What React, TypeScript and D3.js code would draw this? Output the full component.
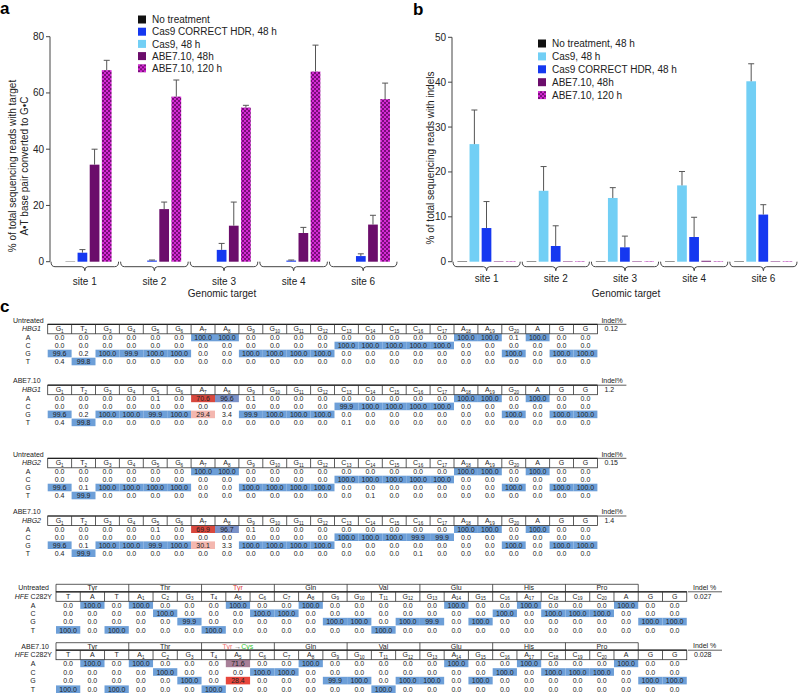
import * as d3 from "d3";

const FONT = "'Liberation Sans', Arial, sans-serif";

const sites = ["site 1", "site 2", "site 3", "site 4", "site 6"];

// panel a: % reads with A•T -> G•C
const aNoTreat = [0.1, 0, 0, 0, 0];
const aHdr = [3.2, 0.4, 4.2, 0.4, 2.0];
const aHdrErr = [1.1, 0.2, 2.3, 0.2, 0.8];
const aAbe48 = [34.5, 18.7, 12.8, 10.2, 13.2];
const aAbe48Err = [5.5, 2.5, 8.4, 2.0, 3.3];
const aAbe120 = [68.1, 58.7, 54.8, 67.6, 57.8];
const aAbe120Err = [3.5, 5.9, 0.8, 9.4, 5.7];
const aTicks = [0, 20, 40, 60, 80];

// panel b: % reads with indels
const bNoTreat = [0.1, 0.1, 0.1, 0.1, 0.1];
const bCas9 = [26.2, 15.8, 14.2, 17.0, 40.2];
const bCas9Err = [7.6, 5.4, 2.3, 3.1, 3.9];
const bHdr = [7.5, 3.5, 3.2, 5.5, 10.5];
const bHdrErr = [5.9, 4.5, 2.5, 4.4, 2.2];
const bAbe48 = [0.1, 0.1, 0.1, 0.2, 0.1];
const bAbe120 = [0.1, 0.1, 0.1, 0.1, 0.1];
const bTicks = [0, 10, 20, 30, 40, 50];

const legendA = ["No treatment", "Cas9 CORRECT HDR, 48 h", "Cas9, 48 h", "ABE7.10, 48h", "ABE7.10, 120 h"];
const legendB = ["No treatment, 48 h", "Cas9, 48 h", "Cas9 CORRECT HDR, 48 h", "ABE7.10, 48h", "ABE7.10, 120 h"];

// panel c tables
const bases = ["A", "C", "G", "T"];
const hbgCols = ["G1", "T2", "G3", "G4", "G5", "G6", "A7", "A8", "G9", "G10", "G11", "G12",
    "C13", "C14", "C15", "C16", "C17", "A18", "A19", "G20", "A", "G", "G"];

const hbg1Untreated = [
    [0, 0, 0, 0, 0, 0, 100, 100, 0, 0, 0, 0, 0, 0, 0, 0, 0, 100, 100, 0.1, 100, 0, 0],
    [0, 0, 0, 0, 0, 0, 0, 0, 0, 0, 0, 0, 100, 100, 100, 100, 100, 0, 0, 0, 0, 0, 0],
    [99.6, 0.2, 100, 99.9, 100, 100, 0, 0, 100, 100, 100, 100, 0, 0, 0, 0, 0, 0, 0, 100, 0, 100, 100],
    [0.4, 99.8, 0, 0, 0, 0, 0, 0, 0, 0, 0, 0, 0, 0, 0, 0, 0, 0, 0, 0, 0, 0, 0],
];
const hbg1Abe = [
    [0, 0, 0, 0, 0.1, 0, 70.6, 96.6, 0.1, 0, 0, 0, 0, 0, 0, 0, 0, 100, 100, 0, 100, 0, 0],
    [0, 0, 0, 0, 0, 0, 0, 0, 0, 0, 0, 0, 99.9, 100, 100, 100, 100, 0, 0, 0, 0, 0, 0],
    [99.6, 0.2, 100, 100, 99.9, 100, 29.4, 3.4, 99.9, 100, 100, 100, 0, 0, 0, 0, 0, 0, 0, 100, 0, 100, 100],
    [0.4, 99.8, 0, 0, 0, 0, 0, 0, 0, 0, 0, 0, 0.1, 0, 0, 0, 0, 0, 0, 0, 0, 0, 0],
];
const hbg2Untreated = [
    [0, 0, 0, 0, 0, 0, 100, 100, 0, 0, 0, 0, 0, 0, 0, 0, 0, 100, 100, 0, 100, 0, 0],
    [0, 0, 0, 0, 0, 0, 0, 0, 0, 0, 0, 0, 100, 100, 100, 100, 100, 0, 0, 0, 0, 0, 0],
    [99.6, 0.1, 100, 100, 100, 100, 0, 0, 100, 100, 100, 100, 0, 0, 0, 0, 0, 0, 0, 100, 0, 100, 100],
    [0.4, 99.9, 0, 0, 0, 0, 0, 0, 0, 0, 0, 0, 0, 0.1, 0, 0, 0, 0, 0, 0, 0, 0, 0],
];
const hbg2Abe = [
    [0, 0, 0, 0, 0.1, 0, 69.9, 96.7, 0.1, 0, 0, 0, 0, 0, 0, 0, 0, 100, 100, 0, 100, 0, 0],
    [0, 0, 0, 0, 0, 0, 0, 0, 0, 0, 0, 0, 100, 100, 100, 99.9, 99.9, 0, 0, 0, 0, 0, 0],
    [99.6, 0.1, 100, 100, 99.9, 100, 30.1, 3.3, 100, 100, 100, 100, 0, 0, 0, 0, 0, 0, 0, 100, 0, 100, 100],
    [0.4, 99.9, 0, 0, 0, 0, 0, 0, 0, 0, 0, 0, 0, 0, 0, 0.1, 0, 0, 0, 0, 0, 0, 0],
];

const hfeCols = ["T", "A", "T", "A1", "C2", "G3", "T4", "A5", "C6", "C7", "A8", "G9", "G10", "T11",
    "G12", "G13", "A14", "G15", "C16", "A17", "C18", "C19", "C20", "A", "G", "G"];
const hfeCodons = ["Tyr", "Thr", "Tyr", "Gln", "Val", "Glu", "His", "Pro"];

const hfeUntreated = [
    [0, 100, 0, 100, 0, 0, 0, 100, 0, 0, 100, 0, 0, 0, 0, 0, 100, 0, 0, 100, 0, 0, 0, 100, 0, 0],
    [0, 0, 0, 0, 100, 0, 0, 0, 100, 100, 0, 0, 0, 0, 0, 0, 0, 0, 100, 0, 100, 100, 100, 0, 0, 0],
    [0, 0, 0, 0, 0, 99.9, 0, 0, 0, 0, 0, 100, 100, 0, 100, 99.9, 0, 100, 0, 0, 0, 0, 0, 0, 100, 100],
    [100, 0, 100, 0, 0, 0, 100, 0, 0, 0, 0, 0, 0, 100, 0, 0, 0, 0, 0, 0, 0, 0, 0, 0, 0, 0],
];
const hfeAbe = [
    [0, 100, 0, 100, 0, 0, 0, 71.6, 0, 0, 100, 0, 0, 0, 0, 0, 100, 0, 0, 100, 0, 0, 0, 100, 0, 0],
    [0, 0, 0, 0, 100, 0, 0, 0, 100, 100, 0, 0, 0, 0, 0, 0, 0, 0, 100, 0, 100, 100, 100, 0, 0, 0],
    [0, 0, 0, 0, 0, 100, 0, 28.4, 0, 0, 0, 99.9, 100, 0, 100, 100, 0, 100, 0, 0, 0, 0, 0, 0, 100, 100],
    [100, 0, 100, 0, 0, 0, 100, 0, 0, 0, 0, 0, 0, 100, 0, 0, 0, 0, 0, 0, 0, 0, 0, 0, 0, 0],
];

const BLACK = "#111";
const HDR_BLUE = "#1538f0";
const CAS9_BLUE = "#72cff5";
const ABE_PURPLE = "#6b0d6b";
const ABE_CHK = "url(#chk)";
const TXT = "#222";
const AXIS = "#444";

function BarPanel({ x0, x1, yTop, yBot, yMax, ticks, series, inner, labelLines, labelX, labelY, legend, legendFills, legX, legY, legStep, gtX, siteY }: any) {
    const x = d3.scaleBand().domain(sites).range([x0, x1]);
    const xi = d3.scaleBand().domain(series.map((s: any, i: number) => String(i))).range(inner).padding(0.2);
    const y = d3.scaleLinear().domain([0, yMax]).range([yBot, yTop]);
    const bw = x.bandwidth();
    return (
        <g>
            {/* y axis */}
            <line x1={x0} x2={x0} y1={yTop} y2={yBot} stroke={AXIS} strokeWidth={1} />
            {ticks.map((t: number) => (
                <g key={t}>
                    <line x1={x0 - 4} x2={x0} y1={y(t)} y2={y(t)} stroke={AXIS} />
                    <text x={x0 - 6} y={y(t) + 3.5} textAnchor="end" fontSize={10} fill={TXT}>{t}</text>
                </g>
            ))}
            {labelLines.map((l: string, i: number) => (
                <text key={i} transform={`translate(${labelX + i * 12},${labelY}) rotate(-90)`} textAnchor="middle" dy="0.35em" fontSize={10} fill={TXT}>{l}</text>
            ))}
            {/* bars */}
            {sites.map((s, si) => (
                <g key={s}>
                    {series.map((ser: any, k: number) => {
                        const v = ser.values[si];
                        const bx = (x(s) as number) + (xi(String(k)) as number);
                        const w = xi.bandwidth();
                        return (
                            <g key={k}>
                                {v > 0 && <rect x={bx} y={y(v)} width={w} height={yBot - y(v)} fill={ser.fill} />}
                                {ser.err && ser.err[si] > 0 && (
                                    <g stroke="#555" strokeWidth={1}>
                                        <line x1={bx + w / 2} x2={bx + w / 2} y1={y(v)} y2={y(v + ser.err[si])} />
                                        <line x1={bx + w / 2 - 3} x2={bx + w / 2 + 3} y1={y(v + ser.err[si])} y2={y(v + ser.err[si])} />
                                    </g>
                                )}
                            </g>
                        );
                    })}
                    {/* bracket axis */}
                    {(() => {
                        const l = (x(s) as number) + 1, r = (x(s) as number) + bw - 1, c = (l + r) / 2;
                        const b = yBot + 5;
                        const d = `M${l},${yBot} Q${l},${b} ${l + 4},${b} L${c - 3},${b} Q${c},${b} ${c},${b + 4} Q${c},${b} ${c + 3},${b} L${r - 4},${b} Q${r},${b} ${r},${yBot}`;
                        return <path d={d} fill="none" stroke={AXIS} strokeWidth={1} />;
                    })()}
                    <text x={(x(s) as number) + bw / 2} y={siteY} textAnchor="middle" fontSize={10} fill={TXT}>{s}</text>
                </g>
            ))}
            <text x={gtX} y={297} textAnchor="middle" fontSize={10} fill={TXT}>Genomic target</text>
            {/* legend */}
            {legend.map((l: string, i: number) => (
                <g key={l} transform={`translate(${legX},${legY + i * legStep})`}>
                    <rect x={0} y={-4} width={8} height={8} fill={legendFills[i]} />
                    <text x={14} y={3.6} fontSize={10} fill={TXT}>{l}</text>
                </g>
            ))}
        </g>
    );
}

function cellFill(v: number, scheme: string) {
    if (v >= 99) return "#6d9fd8";
    if (v >= 90) return "#7a91c8";
    if (v >= 50) return scheme === "hbg" ? "#d8473d" : "#a88098";
    if (v >= 20) return scheme === "hbg" ? "#f4b7af" : "#e8463c";
    return null;
}

function ColLabel({ name, cx, y }: any) {
    const m = name.match(/^([A-Z])(\d*)$/);
    return (
        <text x={cx} y={y} textAnchor="middle" fontSize={7} fill={TXT}>
            {m[1]}{m[2] && <tspan fontSize={4.6} dy={1.5}>{m[2]}</tspan>}
        </text>
    );
}

function SeqTable({ top, x0, colW, cols, rows, status, gene, geneSuffix, indel, indelLabel, scheme, codons, codonColor, abeCodon, rowStep, letterX, hfe }: any) {
    const x = d3.scaleBand().domain(cols.map((c: string, i: number) => String(i))).range([x0, x0 + colW * cols.length]);
    const codonH = codons ? 7.5 : 0;
    const hTop = top + codonH;
    const hH = 9.5;
    const y = d3.scaleLinear().domain([0, 1]).range([hTop + hH + 3.8, hTop + hH + 3.8 + rowStep]);
    const xEnd = x0 + colW * cols.length;
    return (
        <g fontFamily={FONT}>
            {hfe ? (
                <>
                    <text x={49} y={top + 6} textAnchor="end" fontSize={7} fill={TXT}>{status}</text>
                    <text x={52} y={hTop + 7} textAnchor="end" fontSize={7} fill={TXT}><tspan fontStyle="italic">{gene}</tspan>{geneSuffix}</text>
                    <text x={693} y={top + 5.5} fontSize={7} fill={TXT}>{indelLabel}</text>
                    <line x1={688} x2={722} y1={hTop} y2={hTop} stroke="#333" strokeWidth={0.8} />
                    <text x={694} y={hTop + 7} fontSize={7} fill={TXT}>{indel}</text>
                </>
            ) : (
                <>
                    <text x={13} y={top - 1.8} fontSize={7} fill={TXT}>{status}</text>
                    <text x={41} y={hTop + 7} textAnchor="end" fontSize={7} fontStyle="italic" fill={TXT}>{gene}</text>
                    <text x={xEnd + 4} y={top - 1.8} fontSize={7} fill={TXT}>{indelLabel}</text>
                    <line x1={xEnd} x2={xEnd + 29} y1={hTop} y2={hTop} stroke="#333" strokeWidth={0.8} />
                    <text x={xEnd + 7} y={hTop + 7} fontSize={7} fill={TXT}>{indel}</text>
                </>
            )}
            {codons && (
                <g>
                    <line x1={x0} x2={x0 + colW * codons.length * 3} y1={top} y2={top} stroke="#333" strokeWidth={0.8} />
                    {codons.map((c: string, i: number) => {
                        const cx = x0 + colW * (i * 3 + 1.5);
                        return (
                            <g key={i}>
                                <line x1={x0 + colW * i * 3} x2={x0 + colW * i * 3} y1={top} y2={hTop} stroke="#333" strokeWidth={0.8} />
                                {i === 2 && abeCodon ? (
                                    <text x={cx} y={top + 6} textAnchor="middle" fontSize={7}>
                                        <tspan fill="#f07070">Tyr</tspan><tspan fill="#666"> →</tspan><tspan fill="#33c433">Cys</tspan>
                                    </text>
                                ) : (
                                    <text x={cx} y={top + 6} textAnchor="middle" fontSize={7} fill={i === 2 ? codonColor : TXT}>{c}</text>
                                )}
                            </g>
                        );
                    })}
                    <line x1={x0 + colW * codons.length * 3} x2={x0 + colW * codons.length * 3} y1={top} y2={hTop} stroke="#333" strokeWidth={0.8} />
                </g>
            )}
            {/* highlights */}
            {rows.map((r: number[], ri: number) => r.map((v: number, ci: number) => {
                const f = cellFill(v, scheme);
                return f ? <rect key={`${ri}-${ci}`} x={x(String(ci))} y={y(ri) - 3.9} width={colW} height={7.6} fill={f} /> : null;
            }))}
            {/* header */}
            <rect x={x0} y={hTop} width={colW * cols.length} height={hH} fill="none" stroke="#333" strokeWidth={0.8} />
            <line x1={x0} x2={xEnd} y1={hTop} y2={hTop} stroke="#222" strokeWidth={1.2} />
            {cols.map((c: string, i: number) => (
                <g key={i}>
                    {i > 0 && <line x1={x(String(i))} x2={x(String(i))} y1={hTop} y2={hTop + hH} stroke="#333" strokeWidth={0.8} />}
                    <ColLabel name={c} cx={(x(String(i)) as number) + colW / 2} y={hTop + 7} />
                </g>
            ))}
            {bases.map((b, ri) => (
                <text key={b} x={letterX} y={y(ri) + 2.5} textAnchor="middle" fontSize={7} fill={TXT}>{b}</text>
            ))}
            {rows.map((r: number[], ri: number) => r.map((v: number, ci: number) => (
                <text key={`${ri}-${ci}`} x={(x(String(ci)) as number) + colW / 2} y={y(ri) + 2.5} textAnchor="middle" fontSize={7} fill={TXT}>{v.toFixed(1)}</text>
            )))}
        </g>
    );
}

export default function App() {
    const seriesA = [
        { values: aNoTreat, fill: BLACK },
        { values: aHdr, err: aHdrErr, fill: HDR_BLUE },
        { values: aAbe48, err: aAbe48Err, fill: ABE_PURPLE },
        { values: aAbe120, err: aAbe120Err, fill: ABE_CHK },
    ];
    const seriesB = [
        { values: bNoTreat, fill: BLACK },
        { values: bCas9, err: bCas9Err, fill: CAS9_BLUE },
        { values: bHdr, err: bHdrErr, fill: HDR_BLUE },
        { values: bAbe48, fill: ABE_PURPLE },
        { values: bAbe120, fill: ABE_CHK },
    ];
    return (
        <svg width={800} height={694} style={{ position: "absolute", left: 0, top: 0, background: "#fff" }} fontFamily={FONT}>
            <defs>
                <pattern id="chk" width={4} height={4} patternUnits="userSpaceOnUse">
                    <rect width={4} height={4} fill="#7a0c7a" />
                    <rect width={2} height={2} fill="#d42ad4" />
                    <rect x={2} y={2} width={2} height={2} fill="#d42ad4" />
                </pattern>
            </defs>
            <text x={0} y={14} fontSize={17} fontWeight="bold" fill="#000">a</text>
            <text x={413} y={15} fontSize={17} fontWeight="bold" fill="#000">b</text>
            <text x={0} y={312} fontSize={17} fontWeight="bold" fill="#000">c</text>

            <BarPanel x0={50} x1={398} yTop={36.7} yBot={261.7} yMax={80} ticks={aTicks}
                series={seriesA} inner={[13, 64]}
                labelLines={["% of total sequencing reads with target", "A•T base pair converted to G•C"]}
                labelX={12.5} labelY={166}
                legend={legendA} legendFills={[BLACK, HDR_BLUE, CAS9_BLUE, ABE_PURPLE, ABE_CHK]}
                legX={138} legY={19.5} legStep={12.2} gtX={222} siteY={285} />

            <BarPanel x0={452} x1={798} yTop={37.3} yBot={261.7} yMax={50} ticks={bTicks}
                series={seriesB} inner={[3, 66]}
                labelLines={["% of total sequencing reads with indels"]}
                labelX={430} labelY={158}
                legend={legendB} legendFills={[BLACK, CAS9_BLUE, HDR_BLUE, ABE_PURPLE, ABE_CHK]}
                legX={538} legY={43.5} legStep={12.9} gtX={626} siteY={282} />

            <SeqTable top={324.3} x0={47.7} colW={23.9} cols={hbgCols} rows={hbg1Untreated}
                status="Untreated" gene="HBG1" indel="0.12" indelLabel="Indel%" scheme="hbg" rowStep={8} letterX={28} />
            <SeqTable top={385.2} x0={47.7} colW={23.9} cols={hbgCols} rows={hbg1Abe}
                status="ABE7.10" gene="HBG1" indel="1.2" indelLabel="Indel%" scheme="hbg" rowStep={8} letterX={28} />
            <SeqTable top={458.3} x0={47.7} colW={23.9} cols={hbgCols} rows={hbg2Untreated}
                status="Untreated" gene="HBG2" indel="0.15" indelLabel="Indel%" scheme="hbg" rowStep={8} letterX={28} />
            <SeqTable top={516} x0={47.7} colW={23.9} cols={hbgCols} rows={hbg2Abe}
                status="ABE7.10" gene="HBG2" indel="1.4" indelLabel="Indel%" scheme="hbg" rowStep={8} letterX={28} />

            <SeqTable top={584.3} x0={56} colW={24.26} cols={hfeCols} rows={hfeUntreated} hfe
                status="Untreated" gene="HFE" geneSuffix=" C282Y" indel="0.027" indelLabel="Indel %" scheme="hfe"
                codons={hfeCodons} codonColor="#e03a3a" rowStep={8.3} letterX={33} />
            <SeqTable top={642.7} x0={56} colW={24.26} cols={hfeCols} rows={hfeAbe} hfe abeCodon
                status="ABE7.10" gene="HFE" geneSuffix=" C282Y" indel="0.028" indelLabel="Indel %" scheme="hfe"
                codons={hfeCodons} codonColor="#e03a3a" rowStep={8.6} letterX={33} />
        </svg>
    );
}
